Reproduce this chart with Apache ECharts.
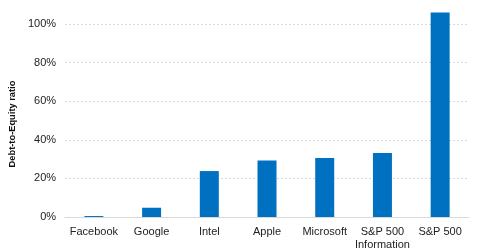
<!DOCTYPE html>
<html><head><meta charset="utf-8">
<script src="https://cdn.jsdelivr.net/npm/echarts@6/dist/echarts.min.js"></script>
<style>html,body{margin:0;padding:0;background:#fff}#c{width:480px;height:251px}</style>
</head><body><div id="c"></div>
<script>
const categories = ['Facebook','Google','Intel','Apple','Microsoft','S&P 500\nInformation','S&P 500'];
const ratios = [0.5, 4.8, 23.8, 29.3, 30.6, 33.2, 106];
const yTicks = [0, 20, 40, 60, 80, 100];

const chart = echarts.init(document.getElementById('c'));
chart.setOption({
  animation: false,
  grid: {left: 58, right: 11, top: 24, bottom: 31},
  xAxis: {
    type: 'category', data: categories,
    axisLine: {lineStyle: {color: '#d9d9d9', width: 1}},
    axisTick: {show: false},
    axisLabel: {color: '#222', fontFamily: 'Liberation Sans, Arial', fontSize: 11, margin: 8, lineHeight: 13, interval: 0}
  },
  yAxis: {
    type: 'value', min: 0, max: 100, interval: 20,
    name: 'Debt-to-Equity ratio', nameLocation: 'middle', nameGap: 42,
    nameTextStyle: {color: '#111', fontFamily: 'Liberation Sans, Arial', fontSize: 9.3, fontWeight: 'bold', padding: [0, 7, 0, 0]},
    axisLine: {show: false}, axisTick: {show: false},
    splitLine: {show: true, lineStyle: {color: '#d9d9d9', type: [2, 2]}},
    axisLabel: {color: '#222', fontFamily: 'Liberation Sans, Arial', fontSize: 11, margin: 9,
      formatter: v => yTicks.includes(v) ? v + '%' : ''}
  },
  series: [{
    type: 'bar', data: ratios, barWidth: 19, clip: false,
    itemStyle: {color: '#0070c0'}
  }]
});
</script></body></html>
